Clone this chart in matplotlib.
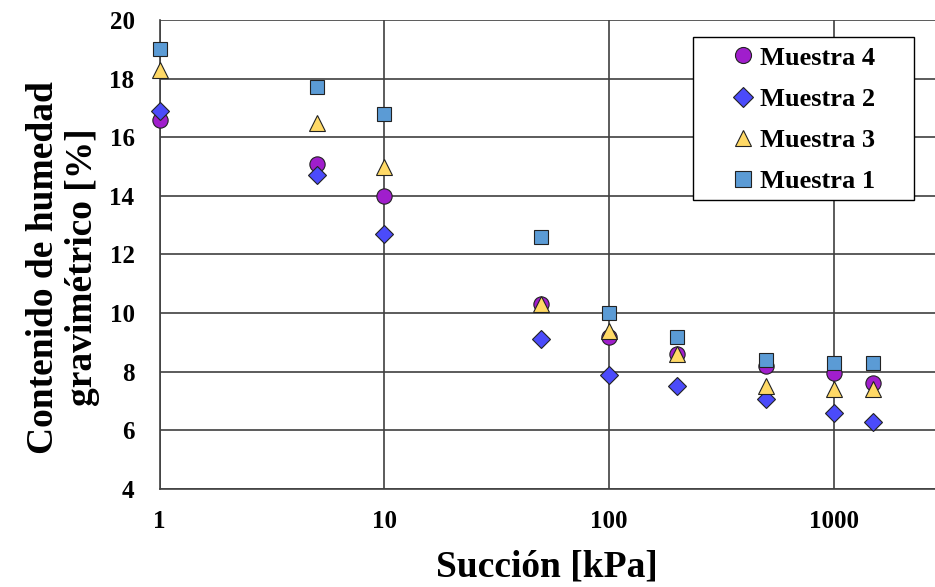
import matplotlib
matplotlib.use("Agg")
import matplotlib.pyplot as plt
from matplotlib.patches import Rectangle

succion = [1, 5, 10, 50, 100, 200, 500, 1000, 1500]
muestra4 = [16.6, 15.1, 14.0, 10.3, 9.2, 8.6, 8.2, 7.95, 7.6]
muestra2 = [16.9, 14.7, 12.7, 9.1, 7.9, 7.5, 7.07, 6.6, 6.3]
muestra3 = [18.3, 16.5, 15.0, 10.3, 9.4, 8.6, 7.5, 7.4, 7.4]
muestra1 = [19.0, 17.7, 16.8, 12.6, 10.0, 9.2, 8.4, 8.3, 8.3]
yticks = [4, 6, 8, 10, 12, 14, 16, 18, 20]
xticks = [1, 10, 100, 1000]
xtick_labels = ["1", "10", "100", "1000"]

plt.rcParams['font.family'] = ['Liberation Serif', 'DejaVu Serif']
plt.rcParams['font.weight'] = 'bold'

fig = plt.figure(figsize=(9.35, 5.87), dpi=100)
ax = fig.add_axes([0.1706, 0.167, 0.8294, 0.799])

ms = 11
kw = dict(mec='#222222', mew=0.8, clip_on=False, ls='none')
ax.plot(succion, muestra4, 'o', ms=ms, mfc='#A01ECC', label='Muestra 4', zorder=3, **kw)
ax.plot(succion, muestra2, 'D', ms=ms*0.85, mfc='#4B4BFA', label='Muestra 2', zorder=4, **kw)
ax.plot(succion, muestra3, '^', ms=ms, mfc='#FFD966', label='Muestra 3', zorder=5, **kw)
ax.plot(succion, muestra1, 's', ms=ms*0.95, mfc='#5B9BD5', label='Muestra 1', zorder=6, **kw)

ax.set_xscale('log')
ax.set_xlim(1, 2818)
ax.set_ylim(4, 20)
ax.set_yticks(yticks)
ax.set_xticks(xticks)
ax.set_xticklabels(xtick_labels)
ax.minorticks_off()
ax.tick_params(axis='both', length=0, labelsize=18)
ax.tick_params(axis='x', pad=15)
ax.tick_params(axis='y', pad=18)
for lab in ax.get_xticklabels() + ax.get_yticklabels():
    lab.set_fontweight('bold')

ax.grid(True, color='#404040', lw=1.2, zorder=1)
ax.set_axisbelow(True)
for s in ['top', 'right']:
    ax.spines[s].set_visible(False)
for s in ['left', 'bottom']:
    ax.spines[s].set_color('#404040')
    ax.spines[s].set_linewidth(1.2)

ax.set_xlabel('Succión [kPa]', fontsize=27, fontweight='bold')
ax.xaxis.set_label_coords(0.5, -0.129)
ax.set_ylabel('Contenido de humedad\ngravimétrico [%]', fontsize=27, fontweight='bold',
              linespacing=1.15)
ax.yaxis.set_label_coords(-0.077, 0.472)

box = Rectangle((0.688, 0.616), 0.285, 0.348, transform=ax.transAxes,
                facecolor='white', edgecolor='black', lw=1.0, zorder=9, clip_on=False)
ax.add_patch(box)

leg = ax.legend(loc='upper left', bbox_to_anchor=(0.735, 0.944), fontsize=19,
                frameon=False, handletextpad=0.15, labelspacing=0.67, borderpad=0,
                handlelength=1.0, borderaxespad=0, markerscale=1.05)
leg.set_zorder(10)
for t in leg.get_texts():
    t.set_fontweight('bold')

fig.savefig('out.png', dpi=100)
